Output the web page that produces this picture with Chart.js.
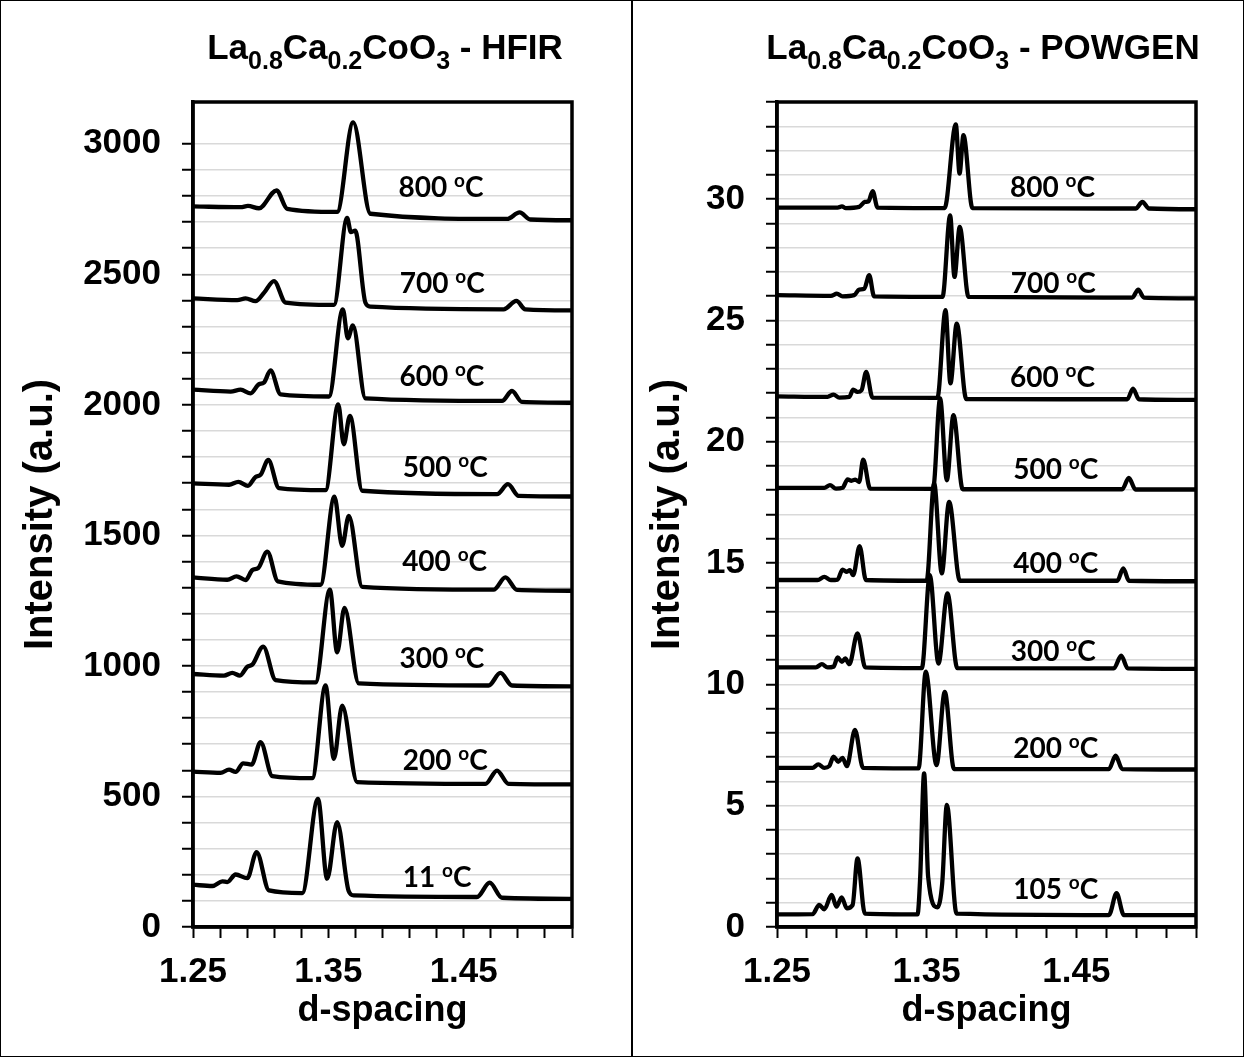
<!DOCTYPE html>
<html>
<head>
<meta charset="utf-8">
<title>La0.8Ca0.2CoO3 neutron diffraction</title>
<script src="https://cdn.jsdelivr.net/npm/chart.js@4.4.1/dist/chart.umd.min.js"></script>
<style>
  html, body { margin: 0; padding: 0; background: #fff; }
  #page { position: relative; width: 1244px; height: 1057px; background: #fff; overflow: hidden; }
  #page canvas { position: absolute; left: 0; top: 0; }
  #frame { position: absolute; left: 0; top: 0; width: 1244px; height: 1057px; box-sizing: border-box; border: 1.5px solid #000; pointer-events: none; }
  #divider { position: absolute; left: 631px; top: 0; width: 1.5px; height: 1057px; background: #000; pointer-events: none; }
</style>
</head>
<body>
<div id="page">
  <canvas id="hfir" width="1244" height="1057"></canvas>
  <canvas id="powgen" width="1244" height="1057"></canvas>
  <div id="frame"></div>
  <div id="divider"></div>
</div>
<script>
// ---- d-spacing (Å) vs. intensity, stacked by temperature ----
const D_MAJOR_TICKS = [1.25, 1.35, 1.45];

const HFIR_TEMPS = ['800', '700', '600', '500', '400', '300', '200', '11'];
const POWGEN_TEMPS = ['800', '700', '600', '500', '400', '300', '200', '105'];

// HFIR patterns: [d-spacing, intensity]
const HFIR_800C = [[1.250,2760],[1.2852,2757],[1.2906,2762],[1.2987,2753],[1.3117,2821],[1.3196,2751],[1.3565,2739],[1.3683,3082],[1.3811,2732],[1.4820,2712],[1.4913,2737],[1.4992,2710],[1.530,2707]];
const HFIR_700C = [[1.250,2408],[1.2827,2401],[1.2889,2408],[1.2962,2397],[1.3024,2429],[1.3098,2474],[1.3184,2392],[1.3541,2383],[1.3639,2716],[1.3666,2662],[1.3698,2667],[1.3774,2391],[1.3811,2376],[1.4795,2366],[1.4889,2398],[1.4955,2366],[1.530,2362]];
const HFIR_600C = [[1.250,2058],[1.2778,2051],[1.2852,2058],[1.2926,2044],[1.2987,2079],[1.3024,2085],[1.3073,2132],[1.3147,2040],[1.3504,2032],[1.3607,2366],[1.3644,2255],[1.3681,2304],[1.3774,2025],[1.4783,2015],[1.4857,2053],[1.4930,2011],[1.530,2008]];
const HFIR_500C = [[1.250,1699],[1.2766,1694],[1.2835,1705],[1.2906,1690],[1.2962,1724],[1.2999,1732],[1.3056,1789],[1.3135,1681],[1.3479,1673],[1.3573,2002],[1.3614,1849],[1.3659,1958],[1.3750,1671],[1.4746,1658],[1.4827,1696],[1.4906,1651],[1.530,1649]];
const HFIR_400C = [[1.250,1339],[1.2753,1330],[1.2822,1343],[1.2889,1329],[1.2938,1367],[1.2982,1375],[1.3049,1438],[1.3127,1324],[1.3442,1311],[1.3545,1648],[1.3602,1460],[1.3651,1575],[1.3750,1303],[1.4721,1292],[1.4808,1339],[1.4894,1291],[1.530,1288]];
const HFIR_300C = [[1.250,969],[1.2729,963],[1.2790,973],[1.2847,963],[1.2901,997],[1.2938,1005],[1.3019,1074],[1.3110,946],[1.3405,937],[1.3511,1292],[1.3565,1052],[1.3619,1222],[1.3725,933],[1.4684,925],[1.4771,973],[1.4857,925],[1.530,922]];
const HFIR_200C = [[1.250,595],[1.2704,590],[1.2766,603],[1.2815,594],[1.2871,627],[1.2933,622],[1.2999,708],[1.3086,578],[1.3381,570],[1.3479,925],[1.3541,644],[1.3602,848],[1.3713,555],[1.4660,548],[1.4746,599],[1.4832,548],[1.530,546]];
const HFIR_11C = [[1.250,162],[1.2643,157],[1.2717,175],[1.2753,172],[1.2815,201],[1.2901,187],[1.2970,287],[1.3061,140],[1.3307,130],[1.3423,491],[1.3491,185],[1.3565,402],[1.3650,138],[1.3688,121],[1.4598,115],[1.4692,170],[1.4783,112],[1.530,108]];

// POWGEN patterns: [d-spacing, intensity]
const POW_800C = [[1.250,29.65],[1.2905,29.65],[1.2934,29.70],[1.2960,29.63],[1.3049,29.68],[1.3087,29.88],[1.3112,29.91],[1.3139,30.33],[1.3172,29.65],[1.3620,29.63],[1.3695,33.08],[1.3720,31.05],[1.3746,32.63],[1.3806,29.63],[1.4897,29.61],[1.4942,29.88],[1.4986,29.61],[1.530,29.58]];
const POW_700C = [[1.250,26.04],[1.2860,26.01],[1.2900,26.10],[1.2938,25.99],[1.3016,26.04],[1.3049,26.27],[1.3083,26.30],[1.3116,26.86],[1.3149,25.99],[1.3606,25.97],[1.3657,29.33],[1.3686,26.79],[1.3721,28.85],[1.3780,25.97],[1.4874,25.94],[1.4914,26.27],[1.4952,25.94],[1.530,25.91]];
const POW_600C = [[1.250,21.87],[1.2838,21.85],[1.2878,21.94],[1.2916,21.82],[1.2983,21.85],[1.3009,22.15],[1.3038,22.05],[1.3065,22.12],[1.3096,22.88],[1.3138,21.82],[1.3572,21.81],[1.3626,25.42],[1.3659,22.40],[1.3701,24.87],[1.3765,21.76],[1.4841,21.75],[1.4879,22.19],[1.4919,21.75],[1.530,21.72]];
const POW_500C = [[1.250,18.10],[1.2816,18.10],[1.2854,18.21],[1.2894,18.07],[1.2938,18.10],[1.2972,18.45],[1.2998,18.39],[1.3023,18.44],[1.3049,18.34],[1.3076,19.26],[1.3122,18.07],[1.3543,18.06],[1.3590,21.78],[1.3635,18.41],[1.3679,21.09],[1.3741,18.04],[1.4807,18.04],[1.4851,18.51],[1.4896,18.03],[1.530,18.03]];
const POW_400C = [[1.250,14.30],[1.2771,14.30],[1.2816,14.43],[1.2860,14.30],[1.2905,14.32],[1.2938,14.73],[1.2967,14.64],[1.2987,14.71],[1.3009,14.50],[1.3052,15.70],[1.3094,14.30],[1.3500,14.27],[1.3550,18.29],[1.3601,14.57],[1.3650,17.52],[1.3722,14.27],[1.4774,14.27],[1.4814,14.78],[1.4852,14.27],[1.530,14.25]];
const POW_300C = [[1.250,10.70],[1.2760,10.70],[1.2800,10.83],[1.2838,10.70],[1.2878,10.73],[1.2905,11.11],[1.2934,10.93],[1.2956,11.07],[1.2983,10.83],[1.3038,12.10],[1.3090,10.70],[1.3468,10.67],[1.3521,14.50],[1.3579,10.86],[1.3639,13.75],[1.3705,10.67],[1.4751,10.66],[1.4800,11.18],[1.4844,10.66],[1.530,10.64]];
const POW_200C = [[1.250,6.56],[1.2738,6.56],[1.2776,6.70],[1.2816,6.56],[1.2849,6.63],[1.2878,7.02],[1.2909,6.81],[1.2938,6.97],[1.2967,6.63],[1.3021,8.12],[1.3075,6.56],[1.3446,6.54],[1.3494,10.52],[1.3566,6.67],[1.3621,9.69],[1.3683,6.51],[1.4718,6.51],[1.4763,7.06],[1.4807,6.51],[1.530,6.49]];
const POW_105C = [[1.250,0.52],[1.2738,0.53],[1.2782,0.91],[1.2816,0.73],[1.2865,1.32],[1.2898,0.84],[1.2932,1.22],[1.2967,0.77],[1.3005,0.90],[1.3038,2.83],[1.3087,0.55],[1.3439,0.52],[1.3457,2.07],[1.3483,6.33],[1.3510,2.07],[1.3572,0.81],[1.3604,1.80],[1.3635,5.03],[1.3700,0.55],[1.4718,0.49],[1.4769,1.39],[1.4818,0.49],[1.530,0.49]];

const HFIR_SERIES = [HFIR_800C, HFIR_700C, HFIR_600C, HFIR_500C, HFIR_400C, HFIR_300C, HFIR_200C, HFIR_11C];
const POWGEN_SERIES = [POW_800C, POW_700C, POW_600C, POW_500C, POW_400C, POW_300C, POW_200C, POW_105C];

// ---- drawing ----
Chart.defaults.font.family = '"Liberation Sans", Arial, Helvetica, sans-serif';
Chart.defaults.font.weight = 'bold';
Chart.defaults.color = '#000';

const FONT_MAIN = 'bold 35px "Liberation Sans", Arial, sans-serif';
const FONT_SUB = 'bold 25px "Liberation Sans", Arial, sans-serif';
const FONT_LABEL = 'bold 28px Lato, "Open Sans", sans-serif';
const FONT_SUP = 'bold 19px Lato, "Open Sans", sans-serif';

// Draws a run of text pieces; each piece is [text, font, baselineShift].
function drawRuns(ctx, runs, x, y, align) {
  let total = 0;
  runs.forEach(r => { ctx.font = r[1]; total += ctx.measureText(r[0]).width; });
  let cx = align === 'center' ? x - total / 2 : x;
  ctx.textAlign = 'left';
  ctx.textBaseline = 'alphabetic';
  runs.forEach(r => {
    ctx.font = r[1];
    ctx.fillText(r[0], cx, y + r[2]);
    cx += ctx.measureText(r[0]).width;
  });
}

function formulaRuns(suffix) {
  return [
    ['La', FONT_MAIN, 0], ['0.8', FONT_SUB, 10],
    ['Ca', FONT_MAIN, 0], ['0.2', FONT_SUB, 10],
    ['CoO', FONT_MAIN, 0], ['3', FONT_SUB, 10],
    [' - ' + suffix, FONT_MAIN, 0]
  ];
}

const decor = {
  id: 'decor',
  afterDraw(chart, args, opts) {
    const { ctx, chartArea: a, scales: { x, y } } = chart;
    ctx.save();
    ctx.fillStyle = '#000';
    // temperature labels
    opts.temps.forEach((t, i) => {
      const p = opts.anchors[i];
      drawRuns(ctx, [[t + ' ', FONT_LABEL, 0], ['o', FONT_SUP, -10], ['C', FONT_LABEL, 0]],
        x.getPixelForValue(p[0]), y.getPixelForValue(p[1]), 'left');
    });
    // plot-area frame
    ctx.strokeStyle = '#000';
    ctx.lineWidth = 3.5;
    ctx.strokeRect(a.left, a.top, a.right - a.left, a.bottom - a.top);
    // panel title
    drawRuns(ctx, formulaRuns(opts.facility), opts.titleX, opts.titleY, 'center');
    ctx.restore();
  }
};

function isMultiple(v, step) {
  return Math.abs(v / step - Math.round(v / step)) < 1e-6;
}

function makePanel(id, series, cfg) {
  return new Chart(document.getElementById(id), {
    type: 'line',
    data: {
      datasets: series.map(s => ({
        data: s.map(([d, v]) => ({ x: d, y: v })),
        borderColor: '#000',
        borderWidth: 4.3,
        pointRadius: 0,
        fill: false,
        cubicInterpolationMode: 'monotone',
        borderCapStyle: 'round',
        borderJoinStyle: 'round'
      }))
    },
    options: {
      responsive: false,
      animation: false,
      devicePixelRatio: 1,
      events: [],
      layout: { padding: cfg.padding },
      plugins: {
        legend: { display: false },
        tooltip: { enabled: false },
        decor: { temps: cfg.temps, anchors: cfg.anchors, facility: cfg.facility, titleX: cfg.titleX, titleY: 59 }
      },
      scales: {
        x: {
          type: 'linear',
          min: 1.25,
          max: 1.53,
          afterFit: s => { s.height = 106; },
          ticks: {
            stepSize: 0.02,
            autoSkip: false,
            maxRotation: 0,
            padding: 13,
            color: '#000',
            font: { size: 35, weight: 'bold' },
            callback: v => D_MAJOR_TICKS.some(m => Math.abs(m - v) < 1e-6) ? v.toFixed(2) : ''
          },
          grid: { drawOnChartArea: false, color: '#000', tickColor: '#000', tickLength: 11, tickWidth: 2 },
          border: { color: '#000', width: 3.5 },
          title: { display: true, text: 'd-spacing', color: '#000', font: { size: 36, weight: 'bold', lineHeight: 1.2 }, padding: 0 }
        },
        y: {
          min: 0,
          max: cfg.yMax,
          afterFit: s => { s.width = cfg.yWidth; },
          afterBuildTicks: s => { s.ticks = s.ticks.filter(t => isMultiple(t.value, cfg.yStep)); },
          ticks: {
            stepSize: cfg.yStep,
            autoSkip: false,
            padding: 21,
            color: '#000',
            font: { size: 35, weight: 'bold' },
            callback: v => isMultiple(v, cfg.yMajor) ? String(v) : ''
          },
          grid: {
            color: c => (c.tick && c.tick.value === 0) ? 'rgba(0,0,0,0)' : '#d9d9d9',
            lineWidth: 1.5,
            tickColor: '#000',
            tickLength: 11,
            tickWidth: 2
          },
          border: { color: '#000', width: 3.5 },
          title: { display: true, text: 'Intensity (a.u.)', color: '#000', font: { size: 40, weight: 'bold', lineHeight: 1.05 }, padding: 0 }
        }
      }
    },
    plugins: [decor]
  });
}

makePanel('hfir', HFIR_SERIES, {
  facility: 'HFIR',
  temps: HFIR_TEMPS,
  anchors: [[1.4018, 2795], [1.4028, 2429], [1.4025, 2072], [1.4050, 1722], [1.4045, 1365], [1.4025, 992], [1.4050, 602], [1.4050, 153]],
  yMax: 3160, yStep: 100, yMajor: 500,
  yWidth: 173,
  titleX: 385,
  padding: { left: 20, right: 672, top: 102, bottom: 24 }
});

makePanel('powgen', POWGEN_SERIES, {
  facility: 'POWGEN',
  temps: POWGEN_TEMPS,
  anchors: [[1.4057, 30.09], [1.4062, 26.13], [1.4057, 22.26], [1.4079, 18.45], [1.4079, 14.60], [1.4062, 10.97], [1.4079, 6.95], [1.4079, 1.14]],
  yMax: 34, yStep: 1, yMajor: 5,
  yWidth: 130,
  titleX: 983,
  padding: { left: 647, right: 48, top: 102, bottom: 24 }
});
</script>
</body>
</html>
